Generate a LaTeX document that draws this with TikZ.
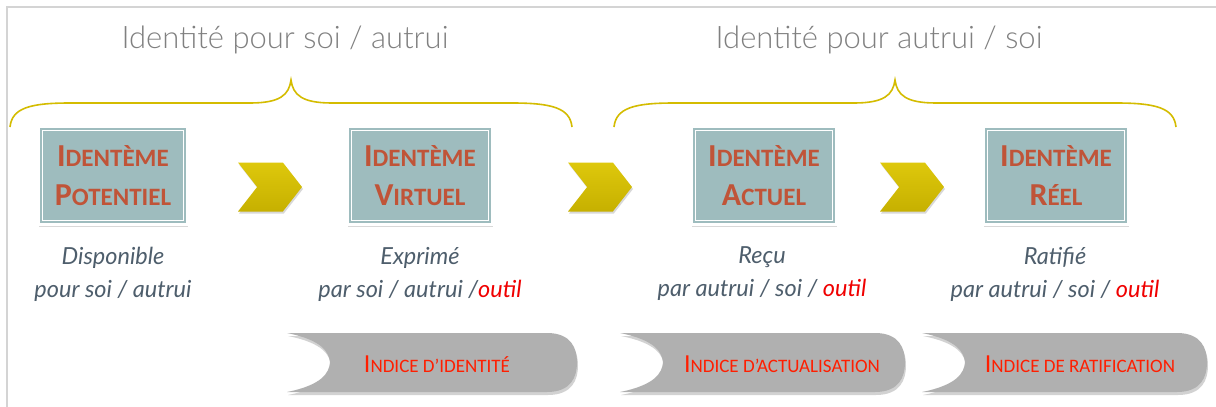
\documentclass[tikz,border=0pt]{standalone}
\usepackage{fontspec}
\setmainfont{Carlito}
\newfontfamily\titlefont{Lato Light}
\newfontfamily\notefont{Lato}
\usetikzlibrary{shapes.symbols,shadows}
\definecolor{idTeal}   {RGB}{158,188,190}
\definecolor{idRust}   {RGB}{192, 84, 56}
\definecolor{idYellow} {RGB}{212,188,  0}
\definecolor{idYellowD}{RGB}{198,176,  0}
\definecolor{idYellowL}{RGB}{222,200, 12}
\definecolor{idSlate}  {RGB}{ 78, 94,108}
\definecolor{idTitle}  {RGB}{128,128,128}
\definecolor{idFrame}  {RGB}{212,212,212}
\definecolor{idTab}    {RGB}{176,176,176}
\definecolor{idRed}    {RGB}{255, 30,  0}
\definecolor{idOutil}  {RGB}{240,  0,  0}
\newcommand\boxsc[2]{{\fontsize{32}{39}\selectfont #1}#2}
\newcommand\tabsc[2]{{\fontsize{26}{26}\selectfont #1}#2}
\newcommand\outil{\textcolor{idOutil}{outil}}

\begin{document}
\begin{tikzpicture}[x=1pt,y=-1pt,
  idbox/.style={draw=white,line width=3pt,fill=idTeal,inner xsep=16.5pt,
               minimum height=98pt,align=center,text=idRust,
               font=\fontsize{25}{39}\selectfont\bfseries,
               drop shadow={shadow xshift=0.5pt,shadow yshift=-2.5pt,opacity=.3},
               path picture={\draw[white,line width=1.3pt]
                 ([shift={(4pt,-4pt)}]path picture bounding box.north west) rectangle
                 ([shift={(-4pt,4pt)}]path picture bounding box.south east);}},
  note/.style={align=center,text=idSlate,
               font=\notefont\itshape\fontsize{23.5}{33}\selectfont},
  title/.style={text=idTitle,font=\titlefont\fontsize{31}{31}\selectfont},
  chev/.style={signal,signal to=east,signal from=west,signal pointer angle=104,
               minimum width=64pt,minimum height=49pt,inner sep=0pt,
               top color=idYellowL,bottom color=idYellowD,
               drop shadow={shadow xshift=1pt,shadow yshift=-2pt,opacity=.3}},
  tabtext/.style={text=idRed,font=\fontsize{19}{19}\selectfont},
  brace/.style={draw=idYellow,line width=1.6pt}
]
\useasboundingbox (0,0) rectangle (1216,407);
\fill[white] (0,0) rectangle (1216,407);
\draw[idFrame,line width=2pt] (1220,7) -- (7,7) -- (7,412);

% braces and titles
\foreach \b in {0,604}
  \draw[brace] (10+\b,127) .. controls (12+\b,108) and (30+\b,103) .. (70+\b,103)
    -- (250+\b,103) .. controls (280+\b,103) and (289+\b,95) .. (291+\b,80)
    .. controls (293+\b,95) and (302+\b,103) .. (332+\b,103)
    -- (512+\b,103) .. controls (552+\b,103) and (570+\b,108) .. (572+\b,127);
\node[title] (ts) at (285,40) {Identité pour soi / autrui};
\node[title] (ta) at (879,40) {Identité pour autrui / soi};

% identemes
\node[idbox] (pot) at (113,175.5) {\boxsc{I}{DENTÈME}\\\boxsc{P}{OTENTIEL}};
\node[idbox] (vir) at (420,175.5) {\boxsc{I}{DENTÈME}\\\boxsc{V}{IRTUEL}};
\node[idbox] (act) at (764,175.5) {\boxsc{I}{DENTÈME}\\\boxsc{A}{CTUEL}};
\node[idbox] (ree) at (1056,175.5) {\boxsc{I}{DENTÈME}\\\boxsc{R}{ÉEL}};

\node[chev] (c1) at (270,187) {};
\node[chev] (c2) at (600,187) {};
\node[chev] (c3) at (912,187) {};

\node[note] (n1) at (113,274) {Disponible\\pour soi / autrui};
\node[note] (n2) at (420,274) {Exprimé\\par soi / autrui /\outil};
\node[note] (n3) at (762,274) {Reçu\\par autrui / soi / \outil};
\node[note] (n4) at (1055,274) {Ratifié\\par autrui / soi / \outil};

% indices
\foreach \l/\r in {287/577,620/905,922/1207}
  \fill[idTab,drop shadow={shadow xshift=1pt,shadow yshift=-3pt,opacity=.35}]
    (\l,333) .. controls (\l+35,340) and (\l+42,352) .. (\l+43,362.5)
    .. controls (\l+42,373) and (\l+35,385) .. (\l,392) -- (\r-30,392)
    .. controls (\r-6,392) and (\r,377) .. (\r,362.5)
    .. controls (\r,348) and (\r-6,333) .. (\r-30,333) -- cycle;
\node[tabtext] (i1) at (437,364) {\tabsc{I}{NDICE D’IDENTITÉ}};
\node[tabtext] (i2) at (782,364) {\tabsc{I}{NDICE D’ACTUALISATION}};
\node[tabtext] (i3) at (1080,364) {\tabsc{I}{NDICE DE RATIFICATION}};
\end{tikzpicture}
\end{document}
